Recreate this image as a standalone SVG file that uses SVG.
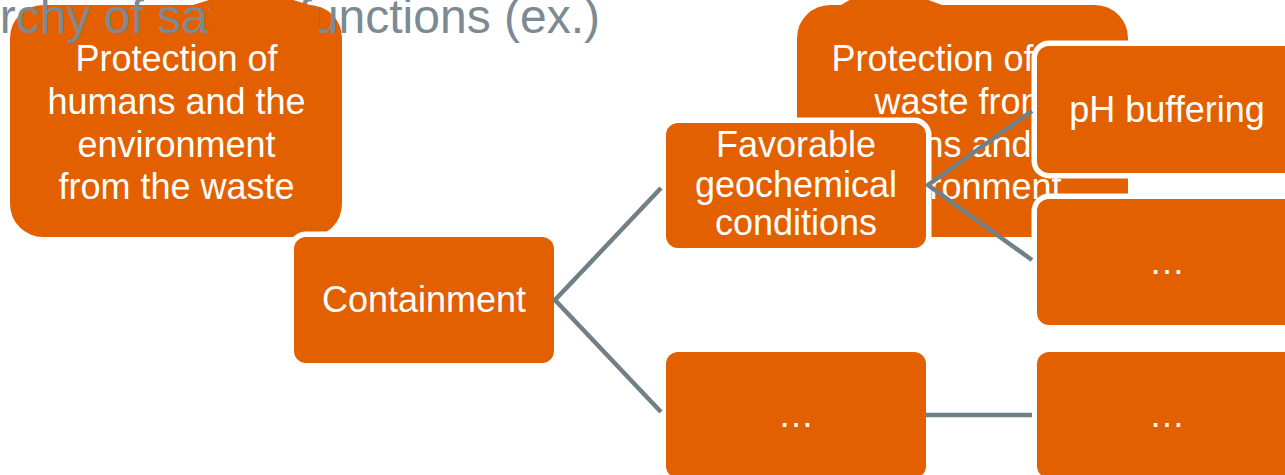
<svg xmlns="http://www.w3.org/2000/svg" width="1285" height="475" viewBox="0 0 1285 475">
  <style>
    .title { font-family: "Liberation Sans", Arial, sans-serif; font-size: 48px; fill: #7d8a93; }
    .shape { fill: #e36000; }
    .node { fill: #e36000; stroke: #ffffff; stroke-width: 11; paint-order: stroke fill; }
    .label { font-family: "Liberation Sans", Arial, sans-serif; font-size: 36px; fill: #ffffff; text-anchor: middle; }
    .link { stroke: #717f87; stroke-width: 4.5; fill: none; stroke-linejoin: miter; }
  </style>

  <!-- bodies of the two top-level goals -->
  <rect id="goal-humans-body" class="shape" x="10" y="5" width="332" height="232" rx="33" ry="33"/>
  <rect id="goal-waste-body" class="shape" x="797" y="5" width="331" height="232" rx="33" ry="33"/>

  <!-- heading, partly running off the left edge -->
  <text class="title" x="600" y="33" text-anchor="end">Hierarchy of safety functions (ex.)</text>

  <!-- goal: protection of humans and the environment -->
  <g id="goal-humans">
    <path class="shape" d="M190,6 L212,-1 L290,-1 L313,6 L319,10 L319,47 L209,47 L209,8 Z"/>
    <text class="label" x="176.5" y="71">Protection of</text>
    <text class="label" x="176.5" y="114">humans and the</text>
    <text class="label" x="176.5" y="157">environment</text>
    <text class="label" x="176.5" y="199">from the waste</text>
  </g>

  <!-- goal: protection of the waste -->
  <g id="goal-waste">
    <polygon class="shape" points="836,8 880,-18 950,8"/>
    <text class="label" x="962.5" y="71">Protection of the</text>
    <text class="label" x="962.5" y="114">waste from</text>
    <text class="label" x="962.5" y="157">humans and the</text>
    <text class="label" x="962.5" y="199">environment</text>
  </g>

  <g id="containment">
    <rect class="node" x="294" y="237" width="260" height="126" rx="12" ry="12"/>
    <text class="label" x="424" y="312">Containment</text>
  </g>

  <g id="geochemical">
    <rect class="node" x="666" y="123" width="260" height="125" rx="12" ry="12"/>
    <text class="label" x="796" y="157">Favorable</text>
    <text class="label" x="796" y="197">geochemical</text>
    <text class="label" x="796" y="235">conditions</text>
  </g>

  <g id="other-function">
    <rect class="node" x="666" y="352" width="260" height="126" rx="12" ry="12"/>
    <text class="label" x="796" y="427">…</text>
  </g>

  <g id="ph-buffering">
    <rect class="node" x="1037" y="46" width="260" height="127" rx="12" ry="12"/>
    <text class="label" x="1167" y="122">pH buffering</text>
  </g>

  <g id="other-geochemical">
    <rect class="node" x="1037" y="199" width="260" height="126" rx="12" ry="12"/>
    <text class="label" x="1167" y="274">…</text>
  </g>

  <g id="other-sub-function">
    <rect class="node" x="1037" y="352" width="260" height="126" rx="12" ry="12"/>
    <text class="label" x="1167" y="427">…</text>
  </g>

  <!-- tree connectors -->
  <g id="connectors">
    <polyline class="link" points="661,188 555,300 661,412"/>
    <polyline class="link" points="1032,111 928,185 1032,260"/>
    <line class="link" x1="926" y1="415" x2="1032" y2="415"/>
  </g>
</svg>
